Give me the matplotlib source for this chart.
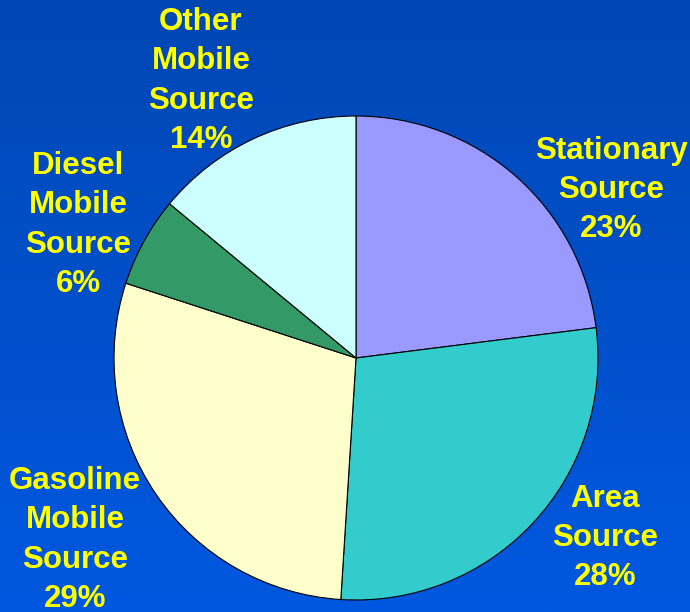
import numpy as np
from matplotlib import pyplot as plt
from matplotlib.colors import LinearSegmentedColormap

# data
sources = ['Stationary\nSource', 'Area\nSource', 'Gasoline\nMobile\nSource',
           'Diesel\nMobile\nSource', 'Other\nMobile\nSource']
shares = [23, 28, 29, 6, 14]
colors = ['#9999FF', '#33CCCC', '#FFFFCC', '#339966', '#CCFFFF']

# label centres in pixel coords (x, y from top)
label_pos = [(611, 190), (605, 538), (75, 540), (78, 225), (201, 81)]

W, H = 690, 612
fig = plt.figure(figsize=(W / 100, H / 100), dpi=100)
ax = fig.add_axes([0, 0, 1, 1])

# blue gradient background
bg = LinearSegmentedColormap.from_list('bg', ['#0058E0', '#0047B4'])
grad = np.linspace(0, 1, 256).reshape(-1, 1)
ax.imshow(grad, cmap=bg, extent=[0, W, 0, H], origin='lower',
          aspect='auto', zorder=0)

cx, cy, r = 356, H - 358, 242
ax.pie(shares, colors=colors, startangle=90, counterclock=False,
       center=(cx, cy), radius=r, frame=True,
       wedgeprops={'edgecolor': 'black', 'linewidth': 0.8})
ax.set_xlim(0, W)
ax.set_ylim(0, H)
ax.set_aspect('equal')
ax.axis('off')

for name, val, (x, y) in zip(sources, shares, label_pos):
    ax.text(x, H - y, f'{name}\n{val}%', ha='center', va='center',
            color='#FFFF00', fontsize=22.5, fontweight='bold',
            family='Liberation Sans', linespacing=1.4, zorder=5)

fig.savefig('out.png', dpi=100)
